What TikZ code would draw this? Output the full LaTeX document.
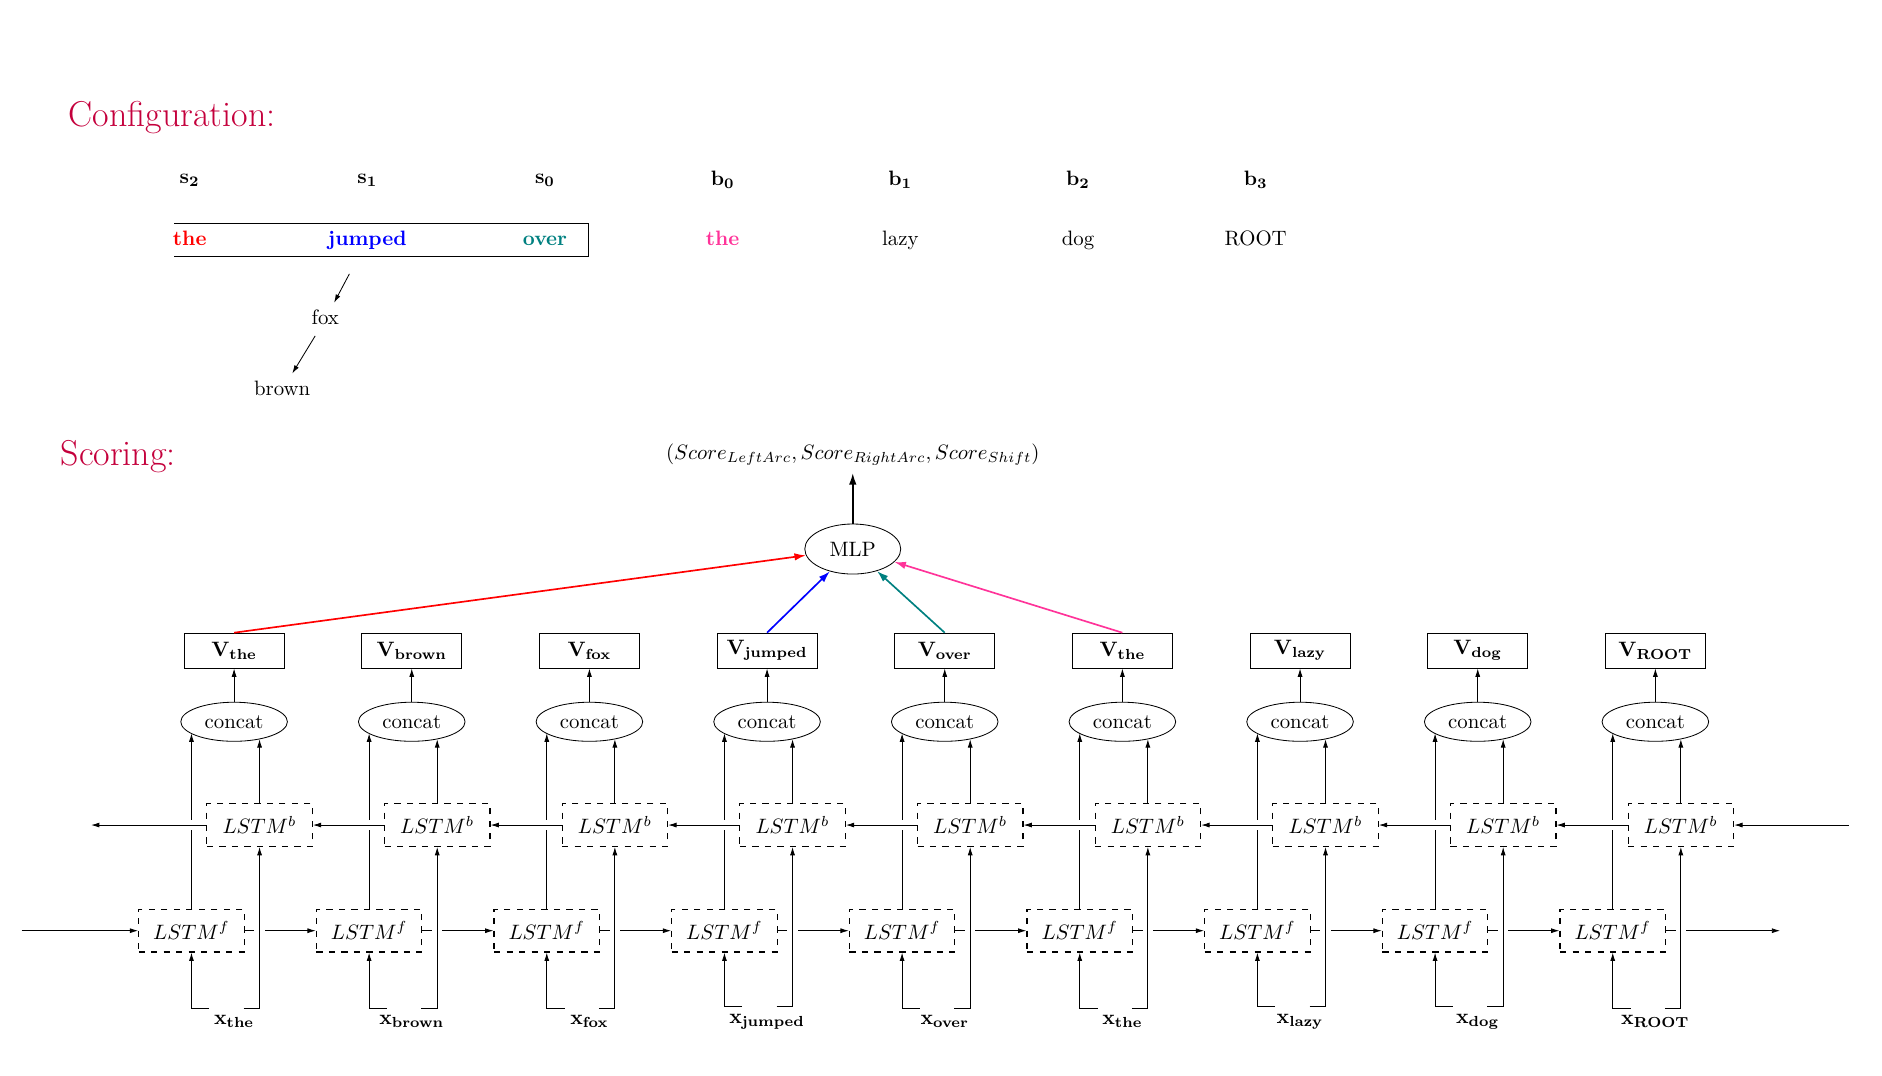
\documentclass[tikz,border=0pt]{standalone}
\usepackage{tikz}
\usetikzlibrary{shapes, positioning, arrows.meta, calc}
\definecolor{titlered}{RGB}{196,0,60}
\definecolor{hotpink}{RGB}{255,51,153}
\tikzset{
  lstm/.style={
    rectangle,
    draw=black, semithick, dashed,
    minimum width=1.78cm,
    minimum height=0.72cm,
    inner sep=2pt
  },
  vecbox/.style={
    rectangle,
    draw=black,
    minimum width=1.69cm,
    minimum height=0.59cm,
    inner sep=2pt
  },
  concatnode/.style={
    ellipse,
    draw=black,
    minimum width=1.8cm,
    minimum height=0.66cm,
    inner sep=1pt
  },
  mlpnode/.style={
    ellipse,
    draw=black,
    minimum width=1.62cm,
    minimum height=0.845cm,
    inner sep=1pt
  },
  word/.style={
    text height=6.94pt,
    text depth=1.94pt,
    inner sep=3.33pt
  },
  heading/.style={
    anchor=west,
    text=titlered,
    font=\LARGE
  },
  arrow/.style={
    ->,
    >={Latex[length=4pt, width=2.4pt]}
  },
  boldarrow/.style={
    thick,
    ->,
    >={Latex[length=5.5pt, width=3.6pt]}
  },
  crossgap/.style={
    preaction={draw=white, -, line width=5pt, shorten <=1pt, shorten >=1pt}
  }
}

\begin{document}
\begin{tikzpicture}
\useasboundingbox (0,0) rectangle (31.78,18.162);
% Arc-standard configuration, scored by a BiLSTM + MLP

% configuration
\node[heading] (config) at (1.04,16.176) {Configuration:};

\foreach \lab [count=\k from 0] in {s_2,s_1,s_0,b_0,b_1,b_2,b_3}
  \node (pos\k) at ({3.203+3*\k},15.12) {$\mathbf{\lab}$};

\node[word, text=red, font=\bfseries] (w2) at (3.203,14.108) {the};
\node[word, text=blue, font=\bfseries] (w1) at (6.203,14.108) {jumped};
\node[word, text=teal, font=\bfseries] (w0) at (9.203,14.108) {over};
\node[word, text=hotpink, font=\bfseries] (bf0) at (12.203,14.108) {the};
\node[word] (bf1) at (15.203,14.108) {lazy};
\node[word] (bf2) at (18.203,14.108) {dog};
\node[word] (bf3) at (21.203,14.108) {ROOT};

\node[word] (fox) at (5.493,12.77) {fox};
\node[word] (brown) at (4.764,11.574) {brown};

% stack, open on the left
\draw ([xshift=0.15cm]w2.west |- w1.north) -- ([xshift=0.23cm]w0.east |- w1.north)
  |- ([xshift=0.15cm]w2.west |- w1.south);

\draw [arrow, shorten <=0.33cm] (w1) -- (fox);
\draw [arrow] (fox) -- (brown);

% scoring
\node[heading] (scoring) at (0.9,10.46) {Scoring:};
\node (score) at (14.40,10.48) {$(Score_{LeftArc}, Score_{RightArc}, Score_{Shift})$};
\node[mlpnode] (mlp) at (14.40,8.891) {MLP};

\foreach \w [count=\i] in {the,brown,fox,jumped,over,the,lazy,dog,ROOT} {
  \pgfmathsetmacro{\cx}{0.953+3*\i}
  \node[vecbox] (v\i) at (\cx,7.176) {$\mathbf{V_{\w}}$};
  \node[concatnode] (c\i) at (\cx,5.974) {concat};
  \node[lstm] (b\i) at (\cx+0.43,4.230) {$LSTM^b$};
  \node[lstm] (f\i) at (\cx-0.72,2.446) {$LSTM^f$};
  \node (x\i) at (\cx,0.908) {$\mathbf{x_{\w}}$};
}

% edges

%% forward LSTM
\coordinate (fin) at (0.365,2.446);
\coordinate (fout) at (30.06,2.446);
\draw [arrow] (fin) -- (f1.west);
\foreach \i [count=\j from 2] in {1,...,8}
  \draw [arrow] (f\i.east) -- (f\j.west);
\draw [arrow] (f9.east) -- (fout);

%% inputs, forward outputs
\foreach \i in {1,...,9} {
  \draw [arrow] ([xshift=-0.42cm]x\i.north) -| (f\i.south);
  \draw [arrow, crossgap] ([xshift=0.16cm]x\i.north) -| (b\i.south);
  \draw [arrow] (f\i.north) -- (f\i.north |- c\i.195);
}

%% backward LSTM
\coordinate (bin) at (31.22,4.230);
\coordinate (bout) at (1.538,4.230);
\draw [arrow] (bin) -- (b9.east);
\foreach \i [count=\j from 2] in {1,...,8}
  \draw [arrow, crossgap] (b\j.west) -- (b\i.east);
\draw [arrow, crossgap] (b1.west) -- (bout);

\foreach \i in {1,...,9} {
  \draw [arrow] (b\i.north) -- (b\i.north |- c\i.326);
  \draw [arrow] (c\i.north) -- (v\i.south);
}

%% features into the MLP
\draw [boldarrow, red] (v1.north) -- (mlp);
\draw [boldarrow, blue] (v4.north) -- (mlp);
\draw [boldarrow, teal] (v5.north) -- (mlp);
\draw [boldarrow, hotpink] (v6.north) -- (mlp);
\draw [boldarrow] (mlp) -- (score);

\end{tikzpicture}
\end{document}
